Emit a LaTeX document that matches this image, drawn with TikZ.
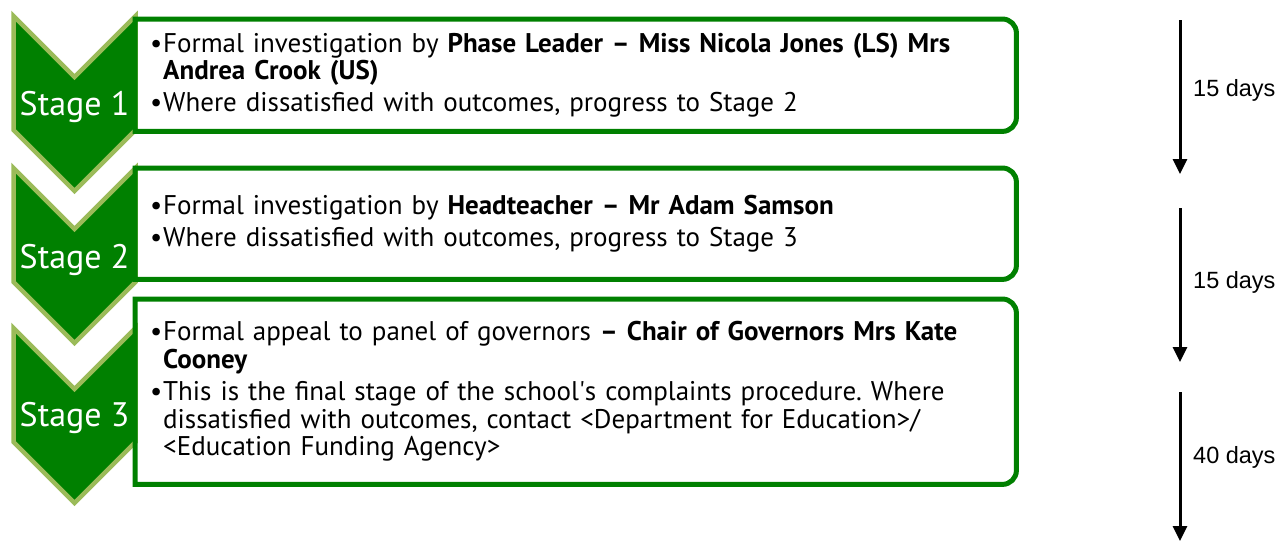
\documentclass[tikz,border=0pt]{standalone}
\usepackage{fontspec}
\setmainfont{PT Sans}[Ligatures=ResetAll]
\newfontfamily\arialfont{Liberation Sans}
\usetikzlibrary{positioning, calc, arrows.meta}
\definecolor{chevfill}{RGB}{0, 128, 0}
\definecolor{chevedge}{RGB}{155, 187, 89}
\definecolor{boxedge}{RGB}{0, 128, 0}
\newcommand{\bul}{\makebox[13pt][l]{\textbullet}}
\newcommand{\hangsp}{\hspace*{13pt}}
\frenchspacing

\begin{document}
\begin{tikzpicture}[x=1pt, y=-1pt,
    chevron/.style={fill=chevfill, draw=chevedge, line width=4.5pt, line join=miter},
    stagelabel/.style={text=white, font=\fontsize{34}{34}\selectfont, inner sep=0pt},
    boxtext/.style={anchor=north west, inner xsep=15pt, inner ysep=0pt, minimum width=881pt,
                    text width=851pt, align=left, font=\fontsize{27}{27.5}\selectfont},
    boxline/.style={draw=boxedge, line width=5pt},
    timeline/.style={line width=3pt, -{Triangle[width=14pt,length=15pt]}},
    daylabel/.style={anchor=west, font=\arialfont\fontsize{23.5}{23.5}\selectfont, inner sep=0pt}]

    \useasboundingbox (0,0) rectangle (1279,542);

    % chevrons
    \foreach \y in {16,168,328} {
        \draw[chevron] (13.5,\y) -- (74.5,\y+61) -- (135.5,\y) -- (135.5,\y+114)
            -- (74.5,\y+175) -- (13.5,\y+114) -- cycle;
    }
    \node[stagelabel] (s1) at (74.5,107) {Stage 1};
    \node[stagelabel] (s2) at (74.5,260) {Stage 2};
    \node[stagelabel] (s3) at (74.5,418) {Stage 3};

    % boxes
    \node[boxtext, minimum height=112pt] (b1) at (135,19) {%
        \bul Formal investigation by \textbf{Phase Leader – Miss Nicola Jones (LS) Mrs}\\
        \hangsp\textbf{Andrea Crook (US)}\\[4pt]
        \bul Where dissatisfied with outcomes, progress to Stage 2};
    \node[boxtext, minimum height=111pt] (b2) at (135,168) {%
        \bul Formal investigation by \textbf{Headteacher – Mr Adam Samson}\\[4pt]
        \bul Where dissatisfied with outcomes, progress to Stage 3};
    \node[boxtext, minimum height=185pt] (b3) at (135,299) {%
        \bul Formal appeal to panel of governors \textbf{– Chair of Governors Mrs Kate}\\
        \hangsp\textbf{Cooney}\\[5pt]
        \bul This is the final stage of the school\textquotesingle s complaints procedure. Where\\
        \hangsp dissatisfied with outcomes, contact <Department for Education>/\\
        \hangsp <Education Funding Agency>};
    \foreach \b in {b1,b2,b3} {
        \draw[boxline] (\b.south west) -- (\b.north west) -- ([xshift=-14pt]\b.north east)
            arc[start angle=90, end angle=0, radius=14pt] -- ([yshift=14pt]\b.south east)
            arc[start angle=0, end angle=-90, radius=14pt] -- cycle;
    }

    % time line
    \coordinate (a1top) at (1180,20);
    \coordinate (a1end) at (1180,174);
    \coordinate (a2top) at (1180,208);
    \coordinate (a2end) at (1180,362);
    \coordinate (a3top) at (1180,392);
    \coordinate (a3end) at (1180,541);
    \draw[timeline] (a1top) -- (a1end);
    \draw[timeline] (a2top) -- (a2end);
    \draw[timeline] (a3top) -- (a3end);
    \node[daylabel] (d1) at (1193,90) {15 days};
    \node[daylabel] (d2) at (1193,282) {15 days};
    \node[daylabel] (d3) at (1193,457) {40 days};
\end{tikzpicture}
\end{document}
